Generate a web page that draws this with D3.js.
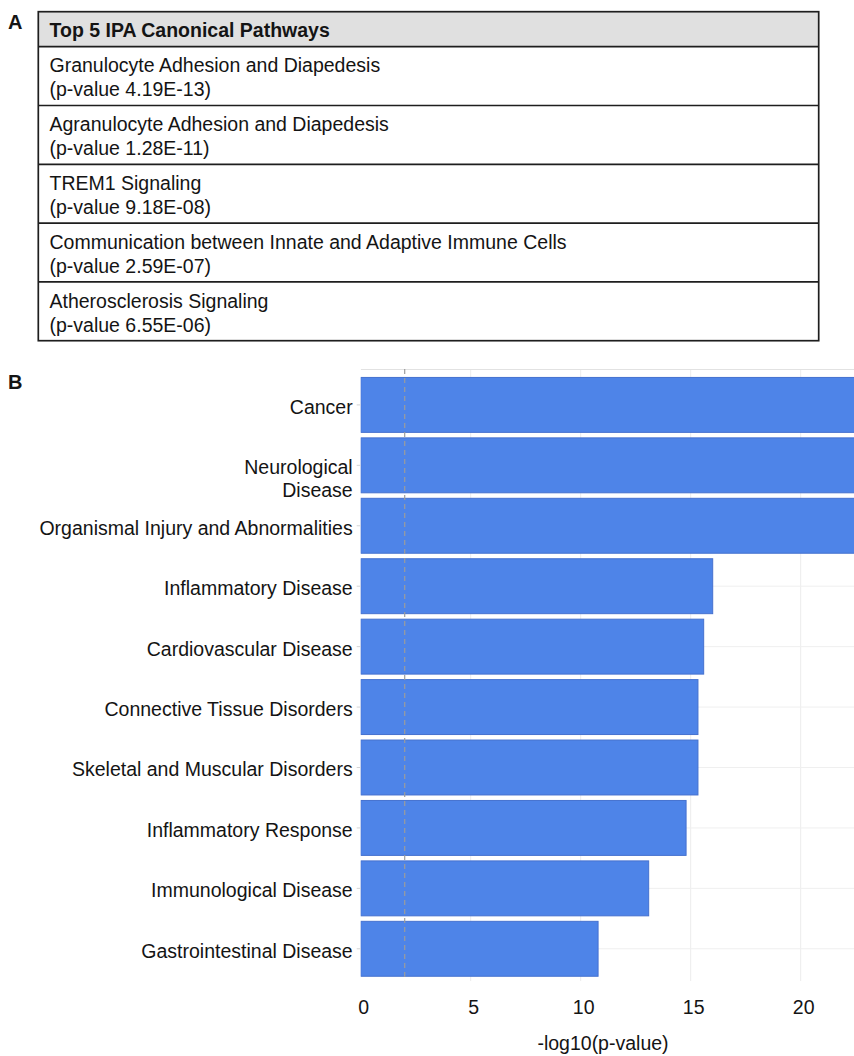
<!DOCTYPE html>
<html>
<head>
<meta charset="utf-8">
<script src="https://cdn.jsdelivr.net/npm/d3@7"></script>
<style>
  body { margin: 0; background: #fff; }
  svg { display: block; }
  text { font-family: "Liberation Sans", Arial, Helvetica, sans-serif; fill: #141414; }
</style>
</head>
<body>
<svg id="fig" width="854" height="1056"></svg>
<script>
// Panel A: top canonical pathways
const tableTitle = "Top 5 IPA Canonical Pathways";
const pathwayNames = [
  "Granulocyte Adhesion and Diapedesis",
  "Agranulocyte Adhesion and Diapedesis",
  "TREM1 Signaling",
  "Communication between Innate and Adaptive Immune Cells",
  "Atherosclerosis Signaling"
];
const pathwayPValues = [4.19e-13, 1.28e-11, 9.18e-8, 2.59e-7, 6.55e-6];

// Panel B: diseases and disorders, -log10(p-value)
const diseaseCategories = [
  "Cancer",
  "Neurological\nDisease",
  "Organismal Injury and Abnormalities",
  "Inflammatory Disease",
  "Cardiovascular Disease",
  "Connective Tissue Disorders",
  "Skeletal and Muscular Disorders",
  "Inflammatory Response",
  "Immunological Disease",
  "Gastrointestinal Disease"
];
const diseaseScores = [25.4, 24.8, 23.9, 16.0, 15.59, 15.33, 15.33, 14.79, 13.09, 10.79];
const xTickValues = [0, 5, 10, 15, 20];
const thresholdScore = 2;
const xAxisTitle = "-log10(p-value)";

const svg = d3.select("#fig");
const W = 854, H = 1056;
svg.append("rect").attr("width", W).attr("height", H).attr("fill", "#fff");

const FS = 19.5;

// format 4.19e-13 -> 4.19E-13, 9.18e-8 -> 9.18E-08
const fmtP = p => p.toExponential(2).toUpperCase().replace(/E([+-])(\d)$/, "E$10$2");

// ---------- Panel A ----------
const tbl = { left: 38.3, right: 818.7, top: 11.7, headerBottom: 46.7, bottom: 340.7 };
const rowScale = d3.scaleBand()
  .domain(d3.range(pathwayNames.length))
  .range([tbl.headerBottom, tbl.bottom]);

svg.append("text").attr("x", 8).attr("y", 28.5)
  .attr("font-size", 20).attr("font-weight", "bold").text("A");

const gA = svg.append("g");
gA.append("rect")
  .attr("x", tbl.left).attr("y", tbl.top)
  .attr("width", tbl.right - tbl.left).attr("height", tbl.headerBottom - tbl.top)
  .attr("fill", "#e0e0e0");
gA.append("text").attr("x", 49.5).attr("y", 36.7)
  .attr("font-size", FS).attr("font-weight", "bold").text(tableTitle);

const rows = gA.selectAll("g.row").data(pathwayNames).join("g")
  .attr("class", "row")
  .attr("transform", (d, i) => `translate(0,${rowScale(i)})`);
rows.append("text").attr("x", 49.5).attr("y", 25.8)
  .attr("font-size", FS).text(d => d);
rows.append("text").attr("x", 49.5).attr("y", 49.8)
  .attr("font-size", FS)
  .text((d, i) => `(p-value ${fmtP(pathwayPValues[i])})`);

// row separators and outer frame
gA.selectAll("line.sep").data(d3.range(pathwayNames.length)).join("line")
  .attr("x1", tbl.left).attr("x2", tbl.right)
  .attr("y1", i => rowScale(i)).attr("y2", i => rowScale(i))
  .attr("stroke", "#1e1e1e").attr("stroke-width", 1.7);
gA.append("rect")
  .attr("x", tbl.left).attr("y", tbl.top)
  .attr("width", tbl.right - tbl.left).attr("height", tbl.bottom - tbl.top)
  .attr("fill", "none").attr("stroke", "#1e1e1e").attr("stroke-width", 1.7);

// ---------- Panel B ----------
svg.append("text").attr("x", 8).attr("y", 388.5)
  .attr("font-size", 20).attr("font-weight", "bold").text("B");

const panel = { left: 360.7, top: 369, bottom: 981, right: W };
const x = d3.scaleLinear().domain([0, 20]).range([panel.left, 800.7]);
const y = d3.scaleBand().domain(diseaseCategories)
  .range([372, 981.7]).paddingInner(0.091).paddingOuter(0.09);

svg.append("clipPath").attr("id", "panelClip").append("rect")
  .attr("x", panel.left).attr("y", panel.top)
  .attr("width", panel.right - panel.left).attr("height", panel.bottom - panel.top);

const gB = svg.append("g").attr("clip-path", "url(#panelClip)");

// grid
gB.selectAll("line.vgrid").data(xTickValues.filter(t => t > 0)).join("line")
  .attr("x1", d => x(d)).attr("x2", d => x(d))
  .attr("y1", panel.top).attr("y2", panel.bottom)
  .attr("stroke", "#ececec").attr("stroke-width", 1);
gB.selectAll("line.hgrid").data(diseaseCategories).join("line")
  .attr("x1", panel.left).attr("x2", panel.right)
  .attr("y1", d => y(d) + y.bandwidth() / 2).attr("y2", d => y(d) + y.bandwidth() / 2)
  .attr("stroke", "#efefef").attr("stroke-width", 1);
gB.append("line")
  .attr("x1", panel.left).attr("x2", panel.right)
  .attr("y1", panel.top + 0.5).attr("y2", panel.top + 0.5)
  .attr("stroke", "#e2e2e2").attr("stroke-width", 1);

// bars
gB.selectAll("rect.bar").data(diseaseCategories).join("rect")
  .attr("class", "bar")
  .attr("x", x(0)).attr("y", d => y(d))
  .attr("width", (d, i) => x(diseaseScores[i]) - x(0))
  .attr("height", y.bandwidth())
  .attr("fill", "#4e84e8").attr("stroke", "#4571cf").attr("stroke-width", 1);

// significance threshold
gB.append("line")
  .attr("x1", x(thresholdScore)).attr("x2", x(thresholdScore))
  .attr("y1", panel.top).attr("y2", panel.bottom)
  .attr("stroke", "#9c9c9c").attr("stroke-width", 1.2)
  .attr("stroke-dasharray", "5,4");

// y axis: ticks + labels
const gY = svg.append("g");
gY.selectAll("line.ytick").data(diseaseCategories).join("line")
  .attr("x1", panel.left - 4).attr("x2", panel.left)
  .attr("y1", d => y(d) + y.bandwidth() / 2).attr("y2", d => y(d) + y.bandwidth() / 2)
  .attr("stroke", "#d4d4d4");
const yLabels = gY.selectAll("text.ylab").data(diseaseCategories).join("text")
  .attr("class", "ylab")
  .attr("text-anchor", "end").attr("font-size", FS)
  .attr("x", 352.7)
  .attr("y", d => y(d) + y.bandwidth() / 2 + 9);
yLabels.each(function(d) {
  const lines = d.split("\n");
  const t = d3.select(this);
  lines.forEach((ln, k) => {
    t.append("tspan").attr("x", 352.7).attr("dy", k === 0 ? 0 : 22.4).text(ln);
  });
});

// x axis
const xAxis = d3.axisBottom(x).tickValues(xTickValues).tickSize(0).tickPadding(19.5);
const gX = svg.append("g").attr("transform", `translate(0,${panel.bottom})`).call(xAxis);
gX.select(".domain").remove();
gX.selectAll("text").attr("font-size", FS).attr("fill", "#141414").attr("dx", 2.5)
  .attr("font-family", "'Liberation Sans', Arial, Helvetica, sans-serif");

svg.append("text").attr("x", 603).attr("y", 1050)
  .attr("text-anchor", "middle").attr("font-size", FS).text(xAxisTitle);
</script>
</body>
</html>
